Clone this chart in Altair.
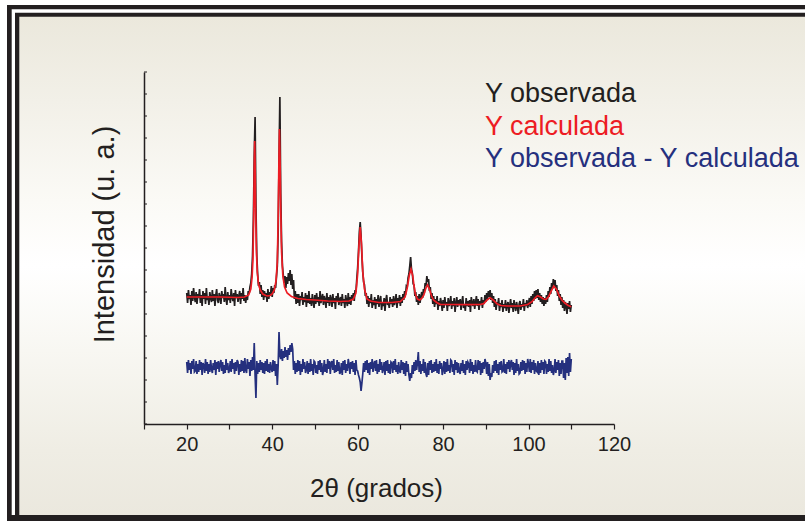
import altair as alt
import pandas as pd

# ---------------- data ----------------
x_start = 20.0
x_step = 0.2

# observed intensity (a.u.), 0.2 deg steps from 20 to 110
y_obs = [
    131,121,134,125,129,119,133,123,136,127,
    122,132,120,130,126,135,121,129,118,133,
    125,131,120,136,124,128,119,132,126,122,
    134,123,130,118,129,135,124,121,131,127,
    120,133,126,130,122,137,125,119,132,124,
    129,121,135,127,123,131,118,134,126,130,
    122,128,133,120,131,125,136,123,129,121,
    128,124,133,130,137,141,150,168,205,268,
    307,218,168,150,138,142,130,139,127,134,
    124,133,127,131,122,135,125,132,129,138,
    127,136,131,139,136,147,158,192,262,327,
    230,182,158,149,141,148,136,147,140,151,
    143,154,139,150,135,144,125,133,120,130,
    121,130,118,128,124,132,119,127,122,131,
    117,129,121,133,120,126,118,130,123,116,
    129,120,131,122,127,118,133,121,126,130,
    119,128,124,116,131,121,127,118,129,125,
    117,130,121,126,115,128,122,131,119,124,
    127,118,130,121,125,116,129,123,118,131,
    120,127,119,129,124,131,123,134,132,145,
    156,172,192,202,188,168,152,142,139,128,
    131,120,128,117,126,121,130,116,124,119,
    127,115,125,120,129,117,123,128,114,122,
    118,126,113,124,129,119,122,116,127,120,
    125,117,128,119,123,130,116,126,121,129,
    118,127,121,130,124,133,129,138,137,146,
    150,158,167,155,151,140,139,128,132,122,
    128,119,130,121,127,132,126,135,131,141,
    138,148,142,145,133,137,125,131,120,128,
    117,125,120,128,114,123,118,126,121,113,
    124,116,127,119,122,113,126,118,121,128,
    115,123,118,126,112,121,127,117,124,119,
    125,114,122,128,116,120,113,126,118,123,
    117,124,112,127,121,118,125,115,122,128,
    118,125,114,123,119,127,116,124,120,129,
    122,131,125,133,127,134,124,131,121,128,
    117,125,114,122,119,126,113,121,117,124,
    112,120,116,124,113,119,122,111,118,125,
    116,121,112,124,118,113,122,117,110,120,
    123,114,120,117,125,113,121,118,124,116,
    121,126,117,128,120,130,123,133,125,134,
    126,135,124,131,122,129,120,127,118,126,
    120,129,122,133,127,137,130,141,135,145,
    137,144,133,139,128,134,123,130,119,127,
    116,124,113,122,118,110,121,115,123,112,
    119,
]

# residual (observed - calculated), same grid
y_diff = [
    5,-6,7,-3,4,-7,6,-2,8,-5,
    -4,6,-7,3,-5,7,-3,5,-8,4,
    2,-6,8,-4,5,-7,3,-5,7,-2,
    -6,4,-3,7,-8,5,-2,6,-5,3,
    7,-4,5,-7,2,-6,8,-3,4,-6,
    -3,6,-5,8,-2,4,-7,5,-4,7,
    5,-8,3,-5,7,-4,6,-6,9,-3,
    -6,8,-2,5,-9,7,-4,10,-3,24,
    -8,-31,6,-7,4,-5,7,-3,5,-6,
    4,-7,6,-4,8,-5,3,-6,5,-2,
    -5,7,-4,6,-9,3,-18,2,35,12,
    8,18,6,16,9,20,10,17,7,19,
    12,22,15,24,18,-3,6,-7,4,-5,
    7,-4,6,-8,3,-5,8,-2,5,-6,
    -3,6,-7,4,-5,8,-4,3,-8,6,
    5,-6,2,-7,6,-3,7,-5,4,-8,
    -4,7,-5,3,-6,8,-2,6,-7,4,
    6,-3,8,-6,2,-5,7,-4,5,-7,
    -5,4,-8,6,-3,7,-6,3,-4,8,
    3,-7,5,-2,6,-5,4,-8,7,-3,
    -4,-8,-11,-15,-24,-16,-7,4,-5,6,
    -3,7,-6,4,-8,5,-2,8,-5,3,
    6,-4,7,-7,3,-5,8,-3,5,-6,
    -2,5,-8,6,-4,7,-6,3,-7,5,
    4,-6,6,-3,8,-5,2,-7,5,-4,
    -6,7,-3,5,-7,4,-9,6,-5,3,
    -8,-14,-6,-11,2,-7,5,-4,7,-3,
    4,15,-5,6,-7,3,-4,8,-6,5,
    -7,-10,4,-8,6,-3,7,-6,3,-5,
    5,-4,8,-6,3,-7,6,-2,4,-8,
    -3,6,-7,5,-5,8,-4,2,-6,7,
    6,-5,3,-8,7,-3,5,-6,4,-4,
    -7,4,-4,7,-6,3,-8,6,-3,5,
    3,-6,8,-4,5,-7,2,-5,7,-4,
    -5,7,-3,6,-8,4,-6,5,-2,8,
    4,-7,5,-9,3,-13,-6,-10,2,-6,
    6,-4,7,-6,3,-8,5,-3,6,-5,
    -4,8,-6,3,-7,5,-2,7,-5,4,
    7,-3,5,-8,4,-6,8,-4,3,-7,
    -6,5,-4,7,-3,6,-7,4,-5,8,
    3,-5,8,-6,5,-3,7,-7,4,-4,
    -5,6,-8,4,-6,7,-3,5,-7,6,
    5,-7,3,-5,8,-4,6,-6,2,-8,
    -4,8,-6,5,-3,7,-9,4,-7,6,
    6,-11,4,-13,9,-6,10,-9,14,-5,
    8,
]
diff_offset = 57  # vertical shift of the difference curve

# calculated profile
calc_x = [20, 24, 28, 32, 33.5, 34.5, 35.0, 35.3, 35.5, 35.7,
          35.8, 35.9, 36.0, 36.1, 36.3, 36.5, 36.8, 37.2, 37.8, 38.5,
          39.0, 39.5, 40.0, 40.5, 40.9, 41.2, 41.4, 41.55, 41.7, 41.85,
          42.0, 42.2, 42.5, 42.9, 43.5, 44.5, 46, 48, 50, 53,
          56, 58, 59, 59.6, 60.0, 60.3, 60.6, 60.9, 61.2, 61.6,
          62.2, 63, 65, 68, 70, 71.1, 71.6, 72.1, 72.5, 72.9,
          73.2, 73.5, 74.0, 74.5, 75.0, 75.5, 75.9, 76.35, 76.8, 77.3,
          77.75, 78.5, 79.3, 82, 86, 88.7, 89.5, 90.3, 91.0, 91.7,
          92.6, 93.5, 95, 98, 99.8, 100.8, 101.5, 102.1, 102.8, 103.5,
          104.1, 104.7, 105.3, 105.9, 106.5, 107.2, 107.8, 108.5, 109.3, 110.0]
calc_y = [127, 127, 127, 126.5, 127, 129, 135, 147, 165, 215,
          255, 283, 260, 222, 175, 152, 140, 134, 130, 128.5,
          128, 128.5, 130, 134, 143, 162, 205, 255, 295, 262,
          215, 172, 148, 137, 131, 127.5, 125.5, 124.5, 124, 123,
          122.5, 123, 125, 131, 150, 178, 197, 180, 152, 135,
          125, 123, 121.5, 121.5, 122.5, 127, 136, 149, 155, 148,
          138, 130, 125, 124, 125.5, 129, 135, 139, 135, 128,
          124, 121.5, 119.7, 119.5, 119.3, 119.5, 120.3, 124, 126.3, 124,
          120.3, 118.5, 118, 118, 119.5, 122.3, 126, 128.3, 127, 125,
          124.7, 127.5, 133, 138, 135, 128, 124, 121, 118.5, 117.3]

x_ticks = [10, 20, 30, 40, 50, 60, 70, 80, 90, 100, 110, 120]
y_ticks = [0, 22, 44, 66, 88, 110, 132, 154, 176, 198, 220, 242, 264, 286, 308, 330, 352]

legend_labels = ["Y observada", "Y calculada", "Y observada - Y calculada"]
legend_colors = ["#231f20", "#ed1c24", "#25307e"]

# ---------------- tables ----------------
obs_df = pd.DataFrame({
    "t": [round(x_start + i * x_step, 2) for i in range(len(y_obs))],
    "v": y_obs,
})
diff_df = pd.DataFrame({
    "t": [round(x_start + i * x_step, 2) for i in range(len(y_diff))],
    "v": [d + diff_offset for d in y_diff],
})
calc_df = pd.DataFrame({"t": calc_x, "v": calc_y})
ytick_df = pd.DataFrame({"v": y_ticks})
one = pd.DataFrame({"k": [0]})

FONT = "Liberation Sans"
INK = "#231f20"

x_scale = alt.Scale(domain=[10, 120], nice=False, zero=False)
y_scale = alt.Scale(domain=[0, 352], nice=False, zero=False)

x_axis = alt.Axis(
    values=x_ticks,
    labelExpr="datum.value % 20 == 0 ? datum.label : ''",
    grid=False, tickSize=5, tickWidth=1.2, tickColor=INK,
    domainColor=INK, domainWidth=1.5,
    labelFont=FONT, labelFontSize=20, labelColor=INK, labelPadding=5,
    labelFlush=False,
    title="2θ (grados)", titleFont=FONT, titleFontSize=26,
    titleFontWeight="normal", titleColor=INK,
    titleBaseline="alphabetic", titleY=72, titleX=232, titleAlign="center",
    zindex=2,
)
y_axis = alt.Axis(
    labels=False, ticks=False, grid=False,
    domainColor=INK, domainWidth=1.5,
    title="Intensidad (u. a.)", titleFont=FONT, titleFontSize=29,
    titleFontWeight="normal", titleColor=INK,
    titleAngle=270, titleBaseline="alphabetic", titleAlign="center",
    titleX=-31, titleY=162,
    zindex=2,
)

X = alt.X("t:Q", scale=x_scale, axis=x_axis)
Y = alt.Y("v:Q", scale=y_scale, axis=y_axis)

# ---------------- decoration: frame & gradient background ----------------
R = 760
B = 500
outer = alt.Chart(one).mark_rect(color=INK).encode(
    x=alt.value(-137), x2=alt.value(R), y=alt.value(-67), y2=alt.value(B))
gap = alt.Chart(one).mark_rect(color="white").encode(
    x=alt.value(-132.3), x2=alt.value(R), y=alt.value(-62.7), y2=alt.value(443))
inner = alt.Chart(one).mark_rect(color=INK).encode(
    x=alt.value(-129), x2=alt.value(R), y=alt.value(-59.3), y2=alt.value(443))
grad = alt.LinearGradient(
    gradient="linear",
    stops=[
        alt.GradientStop(offset=0.0, color="#ebe8dc"),
        alt.GradientStop(offset=0.17, color="#f2f0e8"),
        alt.GradientStop(offset=0.37, color="#fbfaf6"),
        alt.GradientStop(offset=0.5, color="#ffffff"),
        alt.GradientStop(offset=0.67, color="#f8f7f2"),
        alt.GradientStop(offset=0.87, color="#efede4"),
        alt.GradientStop(offset=1.0, color="#ebe8de"),
    ],
    x1=0, x2=0, y1=0, y2=1,
)
bg = alt.Chart(one).mark_rect(color=grad).encode(
    x=alt.value(-124.7), x2=alt.value(R), y=alt.value(-55.3), y2=alt.value(443))

# ---------------- data layers ----------------
obs_line = alt.Chart(obs_df).mark_line(color=legend_colors[0], strokeWidth=1.7).encode(x=X, y=Y)
calc_line = alt.Chart(calc_df).mark_line(color=legend_colors[1], strokeWidth=1.7).encode(x=X, y=Y)
diff_line = alt.Chart(diff_df).mark_line(color=legend_colors[2], strokeWidth=1.7).encode(x=X, y=Y)

yticks = alt.Chart(ytick_df).mark_rule(color=INK, strokeWidth=1).encode(
    y=Y, x=alt.value(0), x2=alt.value(3))

# ---------------- legend as text ----------------
legend_y = [29.7, 62.5, 94.7]
legend_layers = []
for lab, col, yy in zip(legend_labels, legend_colors, legend_y):
    legend_layers.append(
        alt.Chart(pd.DataFrame({"label": [lab]})).mark_text(
            align="left", baseline="alphabetic", font=FONT, fontSize=27, color=col
        ).encode(text="label:N", x=alt.value(341), y=alt.value(yy))
    )

chart = alt.layer(
    outer, gap, inner, bg, yticks, obs_line, calc_line, diff_line, *legend_layers
).properties(
    width=470, height=352,
    padding={"left": 144, "top": 72, "right": 191, "bottom": 97},
    autosize=alt.AutoSizeParams(type="none"),
    background="white",
).configure_view(strokeWidth=0)

chart.save("out.html", embed_options={"renderer": "svg", "actions": False})
